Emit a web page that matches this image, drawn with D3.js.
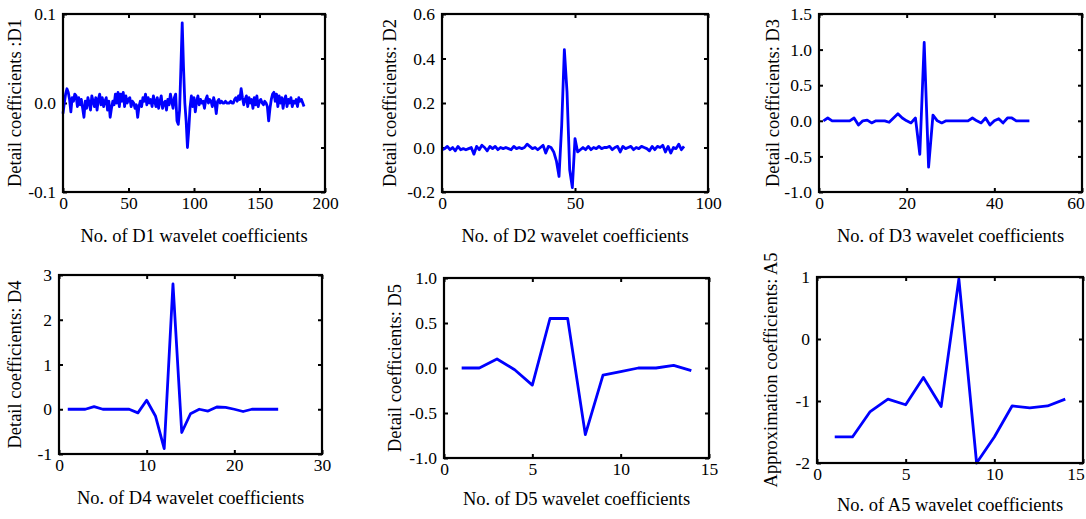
<!DOCTYPE html>
<html>
<head>
<meta charset="utf-8">
<script src="https://cdn.jsdelivr.net/npm/d3@7"></script>
<style>
body { margin: 0; background: #fff; }
svg text { font-family: "Liberation Serif", "Times New Roman", serif; fill: #000; }
</style>
</head>
<body>
<div class="svgHolder"></div>
<script>
const wd = 1086
const ht = 519

// ---- data ----
// D1: index 0..184
const d1Values = [
  -0.012, 0.000, 0.010, 0.016, 0.012, 0.004, -0.010, 0.006, 0.002, 0.010,
  0.008, -0.004, 0.006, -0.002, 0.004, -0.006, -0.016, 0.002, -0.006, 0.006,
  0.000, -0.008, 0.008, 0.002, -0.004, 0.006, -0.008, 0.004, 0.010, -0.002,
  0.006, -0.004, 0.002, 0.006, -0.008, 0.002, -0.016, -0.006, 0.002, -0.002,
  0.010, 0.000, 0.012, -0.004, 0.010, 0.002, 0.012, -0.004, 0.008, 0.000,
  0.004, 0.006, -0.004, 0.002, 0.000, -0.006, -0.002, -0.016, -0.004, 0.002,
  -0.004, 0.006, 0.002, 0.010, -0.002, 0.006, 0.000, 0.004, -0.004, 0.008,
  0.002, -0.004, 0.006, -0.006, 0.002, 0.008, -0.006, 0.000, 0.002, -0.008,
  0.004, -0.002, 0.010, 0.002, -0.006, 0.006, 0.010, -0.020, -0.024, -0.008,
  0.040, 0.090, 0.040, 0.000, -0.020, -0.050, -0.030, -0.005, 0.008, -0.004,
  0.006, -0.010, 0.002, 0.008, -0.002, 0.004, 0.000, 0.002, -0.006, 0.004,
  0.008, 0.000, 0.004, 0.002, -0.004, 0.006, 0.000, -0.012, 0.002, 0.004,
  0.000, 0.002, 0.000, 0.000, 0.002, 0.000, 0.000, 0.000, 0.002, 0.000,
  0.000, 0.004, 0.006, 0.002, 0.008, 0.004, 0.016, 0.006, -0.002, 0.004,
  0.008, -0.004, 0.006, 0.000, 0.004, -0.006, 0.006, -0.002, 0.008, -0.004,
  0.002, 0.004, 0.000, -0.002, 0.002, 0.000, -0.004, -0.020, -0.006, 0.004,
  0.010, 0.012, 0.002, 0.010, -0.004, 0.008, 0.000, 0.006, -0.006, 0.004,
  0.008, -0.004, 0.004, 0.000, 0.006, -0.004, 0.002, 0.000, 0.004, -0.004,
  0.006, 0.002, 0.004, 0.000, -0.004
]
// D2: index 0..91
const d2Values = [
  -0.010, -0.005, 0.005, -0.010, 0.000, -0.015, 0.005, -0.010, -0.005, -0.010,
  -0.005, 0.000, -0.030, 0.005, -0.010, 0.010, 0.000, -0.015, 0.005, -0.005,
  0.005, -0.010, 0.000, -0.005, 0.000, -0.005, -0.010, 0.005, -0.005, 0.000,
  -0.005, 0.000, 0.015, 0.005, -0.005, 0.000, -0.010, 0.000, 0.010, -0.025,
  0.005, 0.000, -0.020, -0.060, -0.130, 0.100, 0.440, 0.250, -0.100, -0.180,
  0.040, -0.020, -0.010, 0.000, -0.010, 0.005, -0.010, 0.000, -0.005, 0.005,
  -0.005, 0.000, 0.000, 0.005, -0.010, 0.000, 0.005, -0.020, 0.005, -0.005,
  0.000, 0.005, -0.010, 0.000, -0.005, 0.005, 0.000, -0.005, -0.015, 0.005,
  -0.010, 0.005, 0.000, 0.010, -0.020, 0.005, -0.025, 0.000, -0.005, 0.015,
  -0.010, 0.005
]
// D3: index 1..48
const d3Values = [
  0.00, 0.04, 0.00, 0.00, 0.00, 0.00, 0.00, 0.04, -0.06, 0.00,
  0.01, -0.03, 0.00, 0.00, 0.00, -0.02, 0.04, 0.10, 0.04, 0.00,
  -0.03, 0.04, -0.47, 1.10, -0.65, 0.08, 0.00, -0.03, 0.00, 0.00,
  0.00, 0.00, 0.00, 0.00, 0.04, 0.00, -0.03, 0.04, -0.06, 0.00,
  0.03, -0.03, 0.04, 0.04, 0.00, 0.00, 0.00, 0.00
]
// D4: index 1..25
const d4Values = [
  0.00, 0.00, 0.00, 0.06, 0.00, 0.00, 0.00, 0.00, -0.08, 0.20,
  -0.15, -0.88, 2.80, -0.52, -0.10, 0.00, -0.04, 0.05, 0.04, 0.00,
  -0.05, 0.00, 0.00, 0.00, 0.00
]
// D5: index 1..14
const d5Values = [0.00, 0.00, 0.10, -0.02, -0.19, 0.55, 0.55, -0.74, -0.08, -0.04, 0.00, 0.00, 0.03, -0.03]
// A5: index 1..14
const a5Values = [-1.58, -1.58, -1.17, -0.97, -1.06, -0.62, -1.09, 0.97, -2.00, -1.58, -1.08, -1.11, -1.08, -0.97]

const d1XTicks = [0, 50, 100, 150, 200]
const d2XTicks = [0, 50, 100]
const d3XTicks = [0, 20, 40, 60]
const d4XTicks = [0, 10, 20, 30]
const d5XTicks = [0, 5, 10, 15]
const a5XTicks = [0, 5, 10, 15]

const d1YTicks = [-0.1, 0, 0.1]
const d2YTicks = [-0.2, 0, 0.2, 0.4, 0.6]
const d3YTicks = [-1, -0.5, 0, 0.5, 1, 1.5]
const d4YTicks = [-1, 0, 1, 2, 3]
const d5YTicks = [-1, -0.5, 0, 0.5, 1]
const a5YTicks = [-2, -1, 0, 1]

const xTitles = ["No. of D1 wavelet coefficients", "No. of D2 wavelet coefficients", "No. of D3 wavelet coefficients",
  "No. of D4 wavelet coefficients", "No. of D5 wavelet coefficients", "No. of A5 wavelet coefficients"]
const yTitles = ["Detail coefficients :D1", "Detail coefficients: D2", "Detail coefficients: D3",
  "Detail coefficients: D4", "Detail coefficients: D5", "Approximation coefficients: A5"]

const fmt1 = d => d.toFixed(1)
const fmt0 = d => d.toFixed(0)

// layout of the six boxes: [left, top, right, bottom]
const panels = [
  {box: [63, 14, 325, 192], xDom: [0, 200], yDom: [-0.1, 0.1], xt: d1XTicks, yt: d1YTicks, ytR: [-0.1, -0.05, 0, 0.05, 0.1], fmt: fmt1, x0: 0, vals: d1Values, ylx: 17, xly: 238},
  {box: [442, 14, 708, 192], xDom: [0, 100], yDom: [-0.2, 0.6], xt: d2XTicks, yt: d2YTicks, ytR: d2YTicks, fmt: fmt1, x0: 0, vals: d2Values, ylx: 392, xly: 238},
  {box: [819, 14, 1082, 192], xDom: [0, 60], yDom: [-1, 1.5], xt: d3XTicks, yt: d3YTicks, ytR: d3YTicks, fmt: fmt1, x0: 1, vals: d3Values, ylx: 775, xly: 238},
  {box: [59, 275, 322, 454], xDom: [0, 30], yDom: [-1, 3], xt: d4XTicks, yt: d4YTicks, ytR: d4YTicks, fmt: fmt0, x0: 1, vals: d4Values, ylx: 17, xly: 500},
  {box: [444, 278, 709, 458], xDom: [0, 15], yDom: [-1, 1], xt: d5XTicks, yt: d5YTicks, ytR: d5YTicks, fmt: fmt1, x0: 1, vals: d5Values, ylx: 397, xly: 501},
  {box: [817, 277, 1083, 463], xDom: [0, 15], yDom: [-2, 1], xt: a5XTicks, yt: a5YTicks, ytR: a5YTicks, fmt: fmt0, x0: 1, vals: a5Values, ylx: 773, xly: 507}
]

const svg = d3.select(".svgHolder").append("svg")
  .attr("width", wd)
  .attr("height", ht)

svg.append("rect").attr("width", wd).attr("height", ht).attr("fill", "#fff")

panels.forEach((p, i) => {
  const [l, t, r, b] = p.box
  const x = d3.scaleLinear().domain(p.xDom).range([l, r])
  const y = d3.scaleLinear().domain(p.yDom).range([b, t])
  const g = svg.append("g")

  // left axis with labels
  const ax = g.append("g").attr("transform", `translate(${l},0)`)
    .call(d3.axisLeft(y).tickValues(p.yt).tickFormat(p.fmt).tickSizeInner(-4).tickSizeOuter(0).tickPadding(7))
  // bottom axis
  const bx = g.append("g").attr("transform", `translate(0,${b})`)
    .call(d3.axisBottom(x).tickValues(p.xt).tickFormat(d => d).tickSizeInner(-4).tickSizeOuter(0).tickPadding(5))
  // right + top: ticks only
  const rx = g.append("g").attr("transform", `translate(${r},0)`)
    .call(d3.axisRight(y).tickValues(p.ytR).tickFormat("").tickSizeInner(-4).tickSizeOuter(0))
  const tx = g.append("g").attr("transform", `translate(0,${t})`)
    .call(d3.axisTop(x).tickValues(p.xt).tickFormat("").tickSizeInner(-4).tickSizeOuter(0))

  ;[ax, bx, rx, tx].forEach(a => {
    a.select(".domain").remove()
    a.selectAll("line").attr("stroke", "#000").attr("stroke-width", 2)
    a.selectAll("text").style("font-size", "17.5px").attr("fill", "#000")
  })

  // keep the last tick label inside the page
  bx.selectAll("text").each(function() {
    const bb = this.getBBox()
    const tr = this.parentNode.transform.baseVal.consolidate().matrix.e
    const over = tr + bb.x + bb.width - (wd - 1)
    if (over > 0) d3.select(this).attr("x", -over)
  })

  // line
  const line = d3.line()
    .x((d, k) => x(p.x0 + k))
    .y(d => y(d))

  g.append("path")
    .attr("d", line(p.vals))
    .attr("fill", "none")
    .attr("stroke", "#0000ff")
    .attr("stroke-width", 2.8)
    .attr("stroke-linejoin", "round")

  // frame
  g.append("rect")
    .attr("x", l).attr("y", t)
    .attr("width", r - l).attr("height", b - t)
    .attr("fill", "none")
    .attr("stroke", "#000")
    .attr("stroke-width", 2.2)

  // titles
  g.append("text")
    .attr("x", (l + r) / 2)
    .attr("y", p.xly)
    .attr("text-anchor", "middle")
    .attr("dominant-baseline", "middle")
    .style("font-size", "18.5px")
    .text(xTitles[i])

  g.append("text")
    .attr("transform", `translate(${p.ylx},${(t + b) / 2}) rotate(-90)`)
    .attr("text-anchor", "middle")
    .attr("dominant-baseline", "middle")
    .style("font-size", "18.5px")
    .text(yTitles[i])
})
</script>
</body>
</html>
